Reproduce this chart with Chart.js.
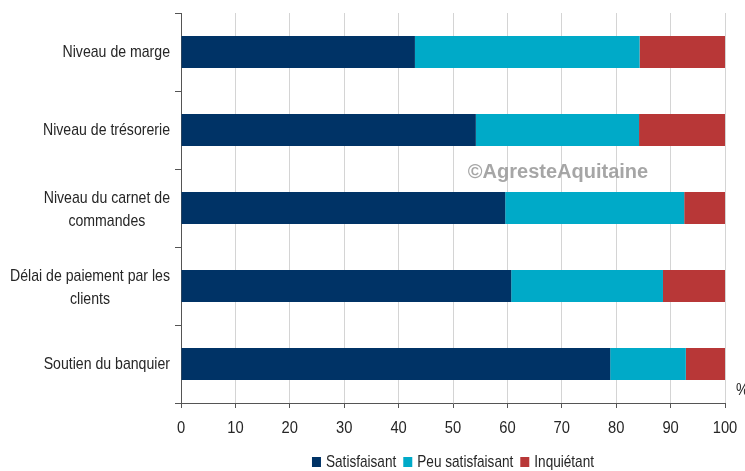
<!DOCTYPE html>
<html>
<head>
<meta charset="utf-8">
<script src="https://cdn.jsdelivr.net/npm/chart.js@4.4.1/dist/chart.umd.min.js"></script>
<style>
  html, body { margin: 0; padding: 0; background: #ffffff; }
  canvas { display: block; }
</style>
</head>
<body>
<canvas id="c" width="745" height="471"></canvas>
<script>
// ---- Data ----
const categories = [
  "Niveau de marge",
  "Niveau de trésorerie",
  ["Niveau du carnet de", "commandes"],
  ["Délai de paiement par les", "clients"],
  "Soutien du banquier"
];
const seriesNames = ["Satisfaisant", "Peu satisfaisant", "Inquiétant"];
const satisfaisant    = [43.0, 54.2, 59.6, 60.7, 78.9];
const peuSatisfaisant = [41.3, 30.0, 32.9, 27.9, 13.9];
const inquietant      = [15.7, 15.8,  7.5, 11.4,  7.2];
const xMin = 0, xMax = 100, xStep = 10;
const unitLabel = "%";
const watermark = "©AgresteAquitaine";

// ---- Styles ----
const colors = ["#003366", "#00aac8", "#b83737"];
const FONT = '"Liberation Sans", Arial, sans-serif';
const TEXT = "#262626";

function drawScaled(ctx, text, x, y, align, sx) {
  ctx.save();
  ctx.translate(x, y);
  ctx.scale(sx, 1);
  ctx.textAlign = align;
  ctx.fillText(text, 0, 0);
  ctx.restore();
}

const textPlugin = {
  id: "texts",
  afterDraw(chart) {
    const ctx = chart.ctx;
    const xs = chart.scales.x, ys = chart.scales.y;
    const area = chart.chartArea;
    ctx.save();
    ctx.textBaseline = "middle";

    // watermark
    ctx.font = "bold 20px " + FONT;
    ctx.fillStyle = "rgba(150,150,150,0.85)";
    ctx.textAlign = "center";
    ctx.fillText(watermark, 558, 172);

    // category labels
    const SX = 0.83;
    ctx.font = "17px " + FONT;
    ctx.fillStyle = TEXT;
    const LH = 23;
    categories.forEach((lab, i) => {
      const lines = Array.isArray(lab) ? lab : [lab];
      const yc = ys.getPixelForValue(i) + (lines.length > 1 ? 2 : 0);
      const maxW = Math.max(...lines.map(l => ctx.measureText(l).width * SX));
      const cx = area.left - 11 - maxW / 2;
      lines.forEach((l, j) => {
        const ly = yc + (j - (lines.length - 1) / 2) * LH;
        drawScaled(ctx, l, cx, ly, "center", SX);
      });
    });

    // x tick labels
    ctx.font = "16px " + FONT;
    xs.ticks.forEach(t => {
      drawScaled(ctx, String(t.value), xs.getPixelForValue(t.value), area.bottom + 26, "center", 0.92);
    });

    // unit
    ctx.font = "17px " + FONT;
    drawScaled(ctx, unitLabel, area.right + 11, area.bottom - 13, "left", 0.85);

    // legend
    const LSX = 0.8;
    ctx.font = "17px " + FONT;
    const boxW = 9, boxH = 10, gapBT = 5, gapItems = 7;
    const widths = seriesNames.map(n => ctx.measureText(n).width * LSX);
    const total = widths.reduce((a, w) => a + boxW + gapBT + w, 0) + gapItems * (seriesNames.length - 1);
    let lx = (area.left + area.right) / 2 - total / 2;
    const ly = 462;
    seriesNames.forEach((n, i) => {
      ctx.fillStyle = colors[i];
      ctx.fillRect(lx, ly - boxH / 2, boxW, boxH);
      lx += boxW + gapBT;
      ctx.fillStyle = TEXT;
      drawScaled(ctx, n, lx, ly, "left", LSX);
      lx += widths[i] + gapItems;
    });
    ctx.restore();
  }
};

const seriesData = [satisfaisant, peuSatisfaisant, inquietant];

new Chart(document.getElementById("c"), {
  type: "bar",
  data: {
    labels: categories,
    datasets: seriesNames.map((name, i) => ({
      label: name,
      data: seriesData[i],
      backgroundColor: colors[i],
      borderWidth: 0,
      barPercentage: 0.41,
      categoryPercentage: 1.0
    }))
  },
  options: {
    indexAxis: "y",
    responsive: false,
    animation: false,
    layout: { padding: { left: 175, right: 20, top: 13, bottom: 63 } },
    plugins: { legend: { display: false }, tooltip: { enabled: false } },
    scales: {
      x: {
        stacked: true,
        min: xMin, max: xMax,
        ticks: { stepSize: xStep, display: false },
        grid: { color: "#d4d4d4", lineWidth: 1, tickColor: "#555555", tickLength: 5 },
        border: { color: "#555555", width: 1 }
      },
      y: {
        stacked: true,
        ticks: { display: false },
        grid: { drawOnChartArea: false, offset: true, tickColor: "#555555", tickLength: 6 },
        border: { color: "#555555", width: 1 }
      }
    }
  },
  plugins: [textPlugin]
});
</script>
</body>
</html>
